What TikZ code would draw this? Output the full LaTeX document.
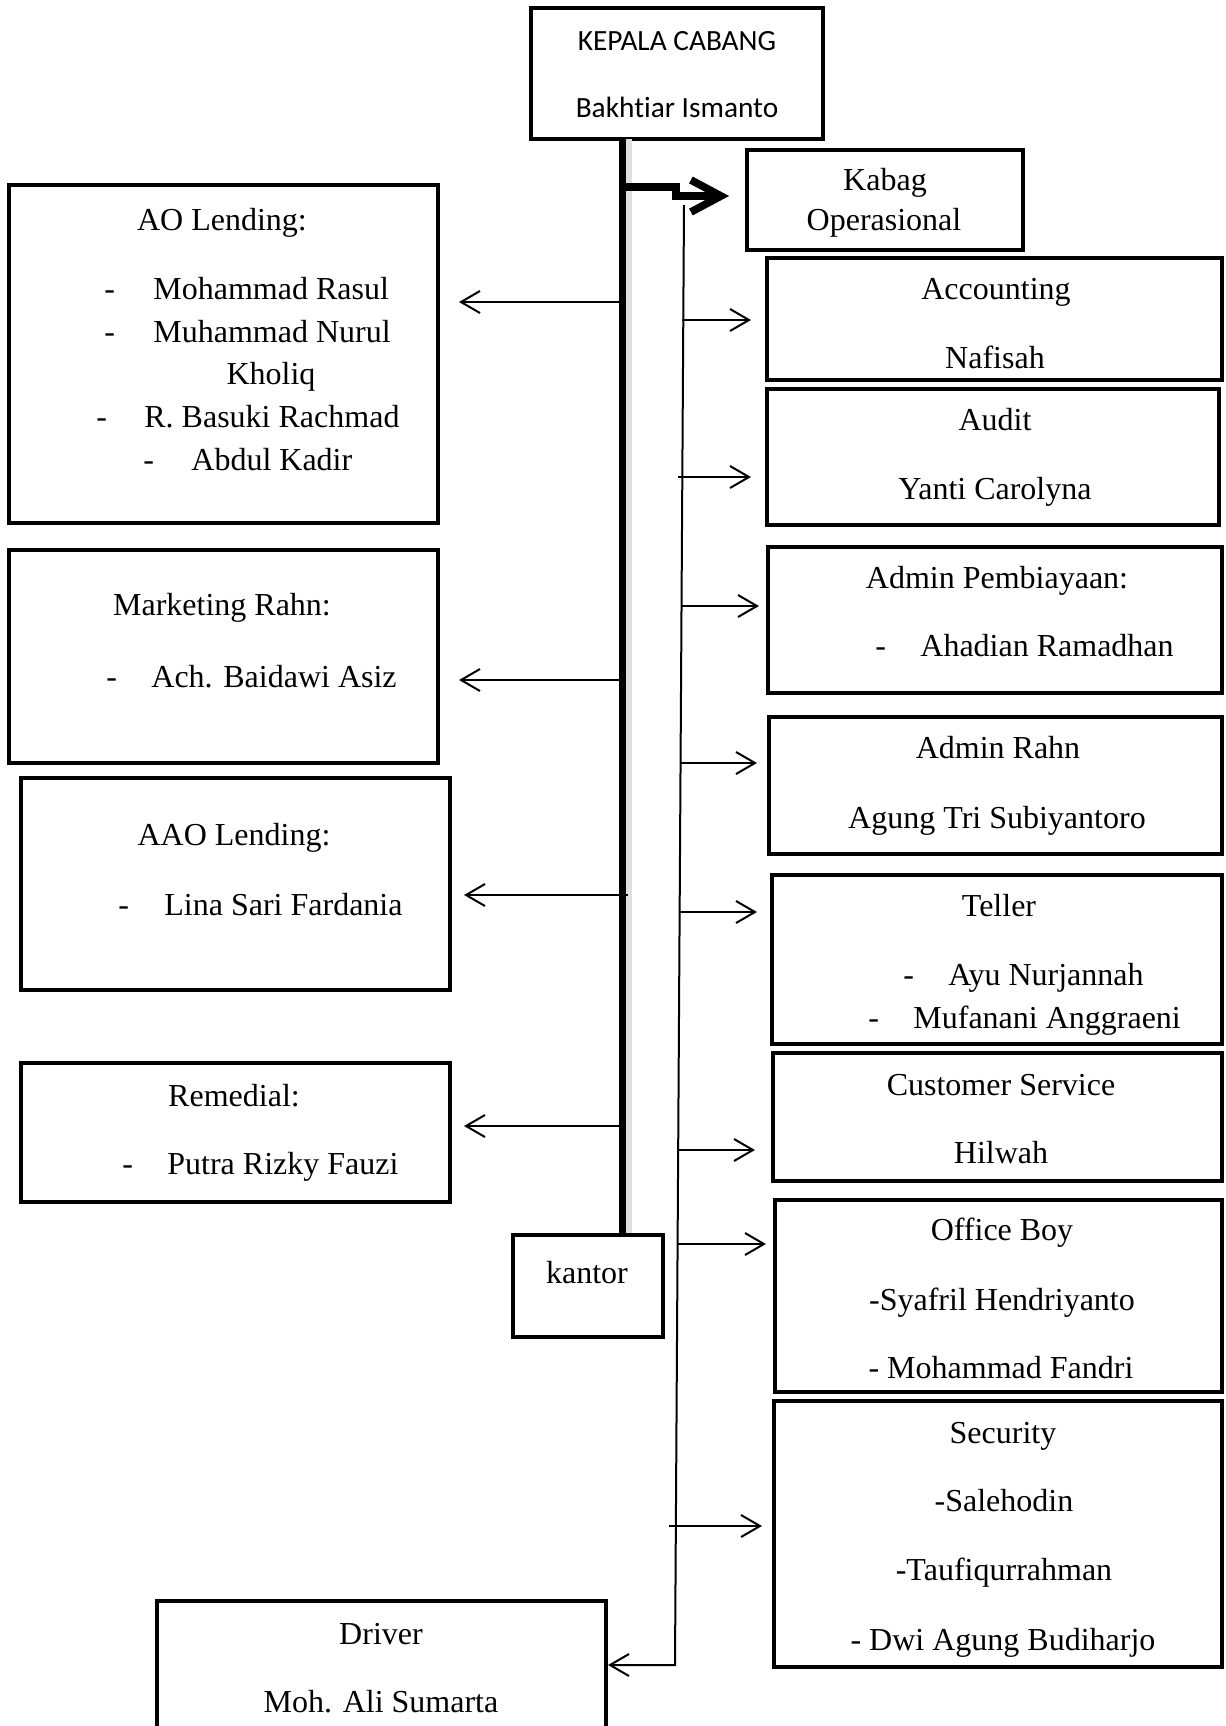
\documentclass[tikz,border=0pt]{standalone}
\usepackage{fontspec}
\setmainfont{Liberation Serif}
\newfontfamily\calfont[Ligatures=NoCommon]{Carlito}
\usetikzlibrary{arrows.meta}
\newcommand\bx[5]{\node[box,minimum width={(#4-#2)*0.5pt},minimum height={(#5-#3)*0.5pt}] (#1) at ({(#2+#4)/2},{(#3+#5)/2}) {};}
\newcommand\Tnode[4]{\node[tx] (#1) at (#2,#3) {#4};}
\newcommand\Dnode[5]{\node[txl] (#1d) at (#2,#4) {-};\node[txl] (#1) at (#3,#4) {#5};}
\begin{document}
\begin{tikzpicture}[x=0.5pt,y=-0.5pt,
  box/.style={draw,line width=2pt,inner sep=0pt,fill=white},
  tx/.style={inner sep=0pt,font=\fontsize{16}{19}\selectfont,anchor=base},
  txl/.style={tx,anchor=base west},
  ctx/.style={inner sep=0pt,font=\calfont\fontsize{14.67}{17}\selectfont,anchor=base},
  ar/.style={line width=1pt,-{Straight Barb[length=9.5pt,width=11pt,line width=1pt]}},
  trunk/.style={line width=3.5pt},
  shade/.style={gray!25}]
\fill[white] (0,0) rectangle (1226,1726);
\useasboundingbox (0,0) rectangle (1226,1726);
% boxes
\bx{kc}{531}{8}{823}{139}
\bx{kb}{747}{150}{1023}{250}
\bx{ac}{767}{258}{1222}{380}
\bx{au}{767}{389}{1219}{525}
\bx{ap}{768}{547}{1222}{693}
\bx{arh}{769}{717}{1222}{854}
\bx{te}{772}{875}{1222}{1044}
\bx{cs}{773}{1053}{1222}{1181}
\bx{ob}{775}{1200}{1222}{1392}
\bx{se}{774}{1401}{1222}{1667}
\bx{ao}{9}{185}{438}{523}
\bx{mr}{9}{550}{438}{763}
\bx{aa}{21}{778}{450}{990}
\bx{re}{21}{1063}{450}{1202}
\bx{dr}{157}{1601}{606}{1780}
\bx{ka}{513}{1235}{663}{1337}
% texts
\node[ctx] (kc1) at (677,50) {KEPALA CABANG};
\node[ctx] (kc2) at (677,117) {Bakhtiar Ismanto};
\Tnode{kb1}{885}{190}{Kabag}
\Tnode{kb2}{884}{230}{Operasional}
\Tnode{ac1}{996}{299}{Accounting}
\Tnode{ac2}{995}{368}{Nafisah}
\Tnode{au1}{995}{430}{Audit}
\Tnode{au2}{995}{499}{Yanti Carolyna}
\Tnode{ap1}{997}{588}{Admin Pembiayaan:}
\Dnode{ap2}{875}{920}{656}{Ahadian Ramadhan}
\Tnode{arh1}{998}{758}{Admin Rahn}
\Tnode{arh2}{997}{828}{Agung Tri Subiyantoro}
\Tnode{te1}{999}{916}{Teller}
\Dnode{te2}{903}{948}{985}{Ayu Nurjannah}
\Dnode{te3}{868}{913}{1028}{Mufanani Anggraeni}
\Tnode{cs1}{1001}{1095}{Customer Service}
\Tnode{cs2}{1001}{1163}{Hilwah}
\Tnode{ob1}{1002}{1240}{Office Boy}
\Tnode{ob2}{1002}{1310}{-Syafril Hendriyanto}
\Tnode{ob3}{1001}{1378}{- Mohammad Fandri}
\Tnode{se1}{1003}{1443}{Security}
\Tnode{se2}{1004}{1511}{-Salehodin}
\Tnode{se3}{1004}{1580}{-Taufiqurrahman}
\Tnode{se4}{1003}{1650}{- Dwi Agung Budiharjo}
\Tnode{ao1}{222}{230}{AO Lending:}
\Dnode{ao2}{104}{153}{299}{Mohammad Rasul}
\Dnode{ao3}{104}{153}{342}{Muhammad Nurul}
\Tnode{ao4}{271}{384}{Kholiq}
\Dnode{ao5}{96}{144}{427}{R. Basuki Rachmad}
\Dnode{ao6}{143}{191}{470}{Abdul Kadir}
\Tnode{mr1}{222}{615}{Marketing Rahn:}
\Dnode{mr2}{106}{151}{687}{Ach. Baidawi Asiz}
\Tnode{aa1}{234}{845}{AAO Lending:}
\Dnode{aa2}{118}{164}{915}{Lina Sari Fardania}
\Tnode{re1}{234}{1106}{Remedial:}
\Dnode{re2}{122}{167}{1174}{Putra Rizky Fauzi}
\Tnode{dr1}{381}{1644}{Driver}
\Tnode{dr2}{381}{1712}{Moh. Ali Sumarta}
\Tnode{ka1}{587}{1283}{kantor}
% trunk
\coordinate (tr) at (622,139);
\draw[shade,trunk] ([xshift=3] tr) -- ([xshift=3] tr |- ka.north);
\draw[trunk] (tr) -- (tr |- ka.north);
% thick arrow to Kabag
\coordinate (k0) at (622,187);
\coordinate (k1) at (676,187);
\coordinate (k2) at (676,196);
\coordinate (k3) at (729,196);
\begin{scope}[shift={(3,4)}]
\draw[gray!45,line width=3.8pt,-{Straight Barb[length=15pt,width=16pt,line width=3.8pt]}] (k0) -- (k1) -- (k2) -- (k3);
\end{scope}
\draw[line width=3.8pt,-{Straight Barb[length=15pt,width=16pt,line width=3.8pt]}] (k0) -- (k1) -- (k2) -- (k3);
% thin line
\coordinate (t0) at (684,205);
\coordinate (t1) at (675,1665);
\draw[ar] (t0) -- (t1) -- (t1 -| dr.east);
% right arrows
\coordinate (sac) at (682,320);
\coordinate (sau) at (678,477);
\coordinate (sap) at (681,606);
\coordinate (sar) at (681,763);
\coordinate (ste) at (680,912);
\coordinate (scs) at (678,1150);
\coordinate (sob) at (677,1244);
\coordinate (sse) at (669,1526);
\draw[ar,shorten >=7pt] (sac) -- (sac -| ac.west);
\draw[ar,shorten >=7pt] (sau) -- (sau -| au.west);
\draw[ar,shorten >=3.5pt] (sap) -- (sap -| ap.west);
\draw[ar,shorten >=5pt] (sar) -- (sar -| arh.west);
\draw[ar,shorten >=6.5pt] (ste) -- (ste -| te.west);
\draw[ar,shorten >=8pt] (scs) -- (scs -| cs.west);
\draw[ar,shorten >=3.5pt] (sob) -- (sob -| ob.west);
\draw[ar,shorten >=5pt] (sse) -- (sse -| se.west);
% left arrows
\coordinate (lao) at (620,302);
\coordinate (lmr) at (620,680);
\coordinate (laa) at (628,895);
\coordinate (lre) at (620,1126);
\draw[ar,shorten >=9.5pt] (lao) -- (lao -| ao.east);
\draw[ar,shorten >=9.5pt] (lmr) -- (lmr -| mr.east);
\draw[ar,shorten >=6pt] (laa) -- (laa -| aa.east);
\draw[ar,shorten >=6pt] (lre) -- (lre -| re.east);
\end{tikzpicture}
\end{document}
